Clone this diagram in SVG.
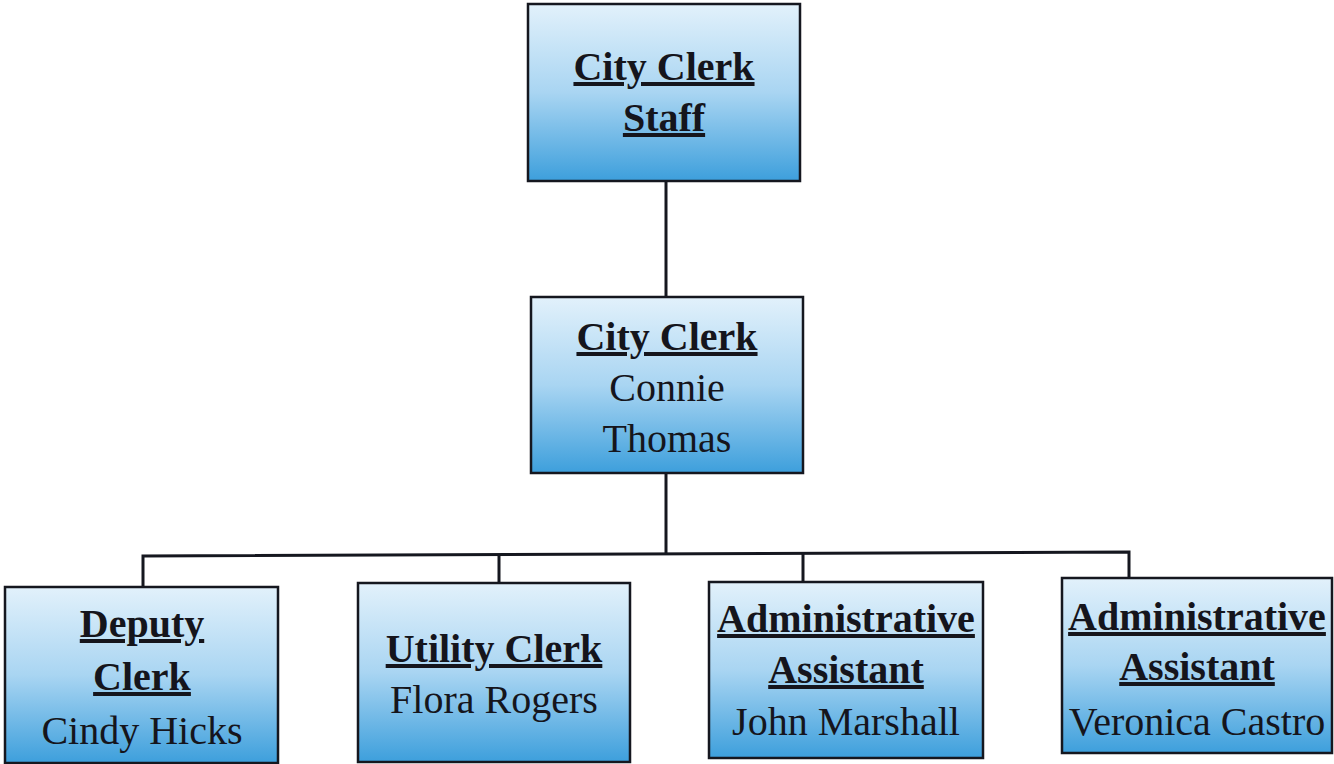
<svg xmlns="http://www.w3.org/2000/svg" width="1334" height="764" viewBox="0 0 1334 764">
<defs>
<linearGradient id="g" x1="0" y1="0" x2="0" y2="1">
<stop offset="0" stop-color="#e2f1fb"/>
<stop offset="0.5" stop-color="#a9d5f2"/>
<stop offset="1" stop-color="#3d9fdc"/>
</linearGradient>
<style>
.box{fill:url(#g);stroke:#15171f;stroke-width:2.5}
.t{font-family:'Liberation Serif','DejaVu Serif','Times New Roman',serif;font-size:40px;fill:#15151c;text-anchor:middle}
.b{font-weight:bold;text-decoration:underline;text-decoration-thickness:3px}
.c{fill:none;stroke:#15171f;stroke-width:3}
</style>
</defs>
<rect width="1334" height="764" fill="#ffffff"/>
<g id="connectors">
<path class="c" d="M666 182V297"/>
<path class="c" d="M666 473V553"/>
<path class="c" d="M143 587V556L1129 552V578"/>
<path class="c" d="M499 583V555"/>
<path class="c" d="M803 582V553"/>
</g>
<g id="staff">
<rect class="box" x="528" y="4" width="272" height="177"/>
<text class="t b" x="664" y="80">City Clerk</text>
<text class="t b" x="664" y="131">Staff</text>
</g>
<g id="cityclerk">
<rect class="box" x="531" y="297" width="272" height="176"/>
<text class="t b" x="667" y="350">City Clerk</text>
<text class="t" x="667" y="401">Connie</text>
<text class="t" x="667" y="452">Thomas</text>
</g>
<g id="deputy">
<rect class="box" x="5" y="587" width="273" height="176"/>
<text class="t b" x="142" y="637">Deputy</text>
<text class="t b" x="142" y="690">Clerk</text>
<text class="t" x="142" y="744">Cindy Hicks</text>
</g>
<g id="utility">
<rect class="box" x="358" y="583" width="272" height="179"/>
<text class="t b" x="494" y="662">Utility Clerk</text>
<text class="t" x="494" y="713">Flora Rogers</text>
</g>
<g id="admin1">
<rect class="box" x="709" y="582" width="274" height="176"/>
<text class="t b" x="846" y="632">Administrative</text>
<text class="t b" x="846" y="683">Assistant</text>
<text class="t" x="846" y="735">John Marshall</text>
</g>
<g id="admin2">
<rect class="box" x="1062" y="578" width="270" height="175"/>
<text class="t b" x="1197" y="630">Administrative</text>
<text class="t b" x="1197" y="680">Assistant</text>
<text class="t" x="1197" y="735">Veronica Castro</text>
</g>
</svg>
